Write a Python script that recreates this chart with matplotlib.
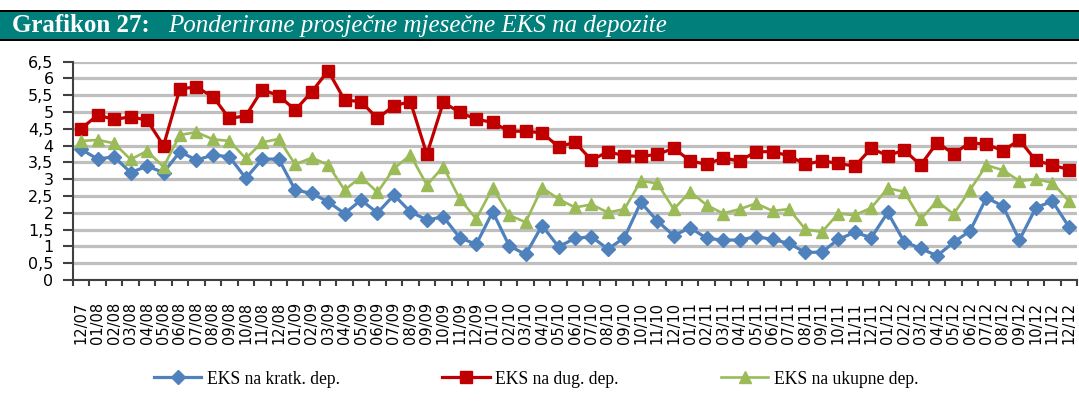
import matplotlib
matplotlib.use("Agg")
import matplotlib.pyplot as plt
from matplotlib.patches import Rectangle
import numpy as np

# monthly labels 12/07 .. 12/12
months = ["12/07"] + [f"{m:02d}/{y:02d}" for y in range(8, 13) for m in range(1, 13)]

# weighted average effective interest rate on deposits (%)
eks_kratk = [3.89, 3.60, 3.67, 3.20, 3.39, 3.20, 3.82, 3.57, 3.72, 3.67,
             3.03, 3.60, 3.60, 2.68, 2.58, 2.33, 1.98, 2.38, 2.00, 2.53,
             2.03, 1.79, 1.88, 1.26, 1.06, 2.03, 1.02, 0.76, 1.62, 0.99,
             1.24, 1.29, 0.92, 1.26, 2.31, 1.76, 1.32, 1.56, 1.24, 1.19,
             1.19, 1.29, 1.21, 1.09, 0.82, 0.83, 1.21, 1.42, 1.26, 2.01,
             1.14, 0.94, 0.72, 1.12, 1.46, 2.45, 2.20, 1.19, 2.15, 2.35,
             1.59]
eks_dug = [4.51, 4.91, 4.78, 4.86, 4.76, 4.00, 5.70, 5.74, 5.46, 4.81,
           4.89, 5.67, 5.49, 5.06, 5.60, 6.23, 5.36, 5.31, 4.81, 5.19,
           5.31, 3.74, 5.29, 4.99, 4.79, 4.69, 4.43, 4.43, 4.38, 3.97,
           4.10, 3.57, 3.82, 3.70, 3.68, 3.74, 3.92, 3.55, 3.44, 3.64,
           3.54, 3.82, 3.82, 3.70, 3.44, 3.55, 3.47, 3.39, 3.92, 3.70,
           3.87, 3.42, 4.09, 3.76, 4.09, 4.04, 3.85, 4.17, 3.56, 3.42,
           3.29]
eks_ukupne = [4.14, 4.17, 4.07, 3.59, 3.84, 3.37, 4.32, 4.40, 4.19, 4.14,
              3.62, 4.10, 4.20, 3.44, 3.64, 3.43, 2.68, 3.07, 2.61, 3.32,
              3.72, 2.83, 3.37, 2.41, 1.82, 2.75, 1.93, 1.72, 2.75, 2.41,
              2.16, 2.25, 2.01, 2.11, 2.95, 2.88, 2.11, 2.63, 2.23, 1.98,
              2.11, 2.28, 2.06, 2.11, 1.51, 1.43, 1.98, 1.93, 2.15, 2.73,
              2.63, 1.81, 2.35, 1.96, 2.68, 3.42, 3.27, 2.95, 3.00, 2.90,
              2.35]
yticks = [0, 0.5, 1, 1.5, 2, 2.5, 3, 3.5, 4, 4.5, 5, 5.5, 6, 6.5]

W, H = 1079, 401
fig = plt.figure(figsize=(W / 100, H / 100), dpi=100)

# title bar
fig.patches.append(Rectangle((0, 1 - 41 / H), 1.0, 31 / H, transform=fig.transFigure,
                             facecolor="#007f7b", edgecolor="none", zorder=0))
for yb in (10, 39):
    fig.patches.append(Rectangle((0, 1 - (yb + 2) / H), 1.0, 2 / H, transform=fig.transFigure,
                                 facecolor="black", edgecolor="none", zorder=1))
fig.text(12 / W, 1 - 26 / H, "Grafikon 27:", color="white", fontsize=18,
         fontweight="bold", family="Liberation Serif", va="center", ha="left")
fig.text(168 / W, 1 - 26 / H, "Ponderirane prosječne mjesečne EKS na depozite",
         color="white", fontsize=18, style="italic", family="Liberation Serif",
         va="center", ha="left")

ax = fig.add_axes([73 / W, 121 / H, (1077 - 73) / W, (280 - 61.7) / H])
x = np.arange(len(months))

ax.plot(x, eks_kratk, color="#4f81bd", lw=2.3, marker="D", ms=7,
        mec="#4f81bd", mfc="#4f81bd", label="EKS na kratk. dep.", zorder=3)
ax.plot(x, eks_dug, color="#c00000", lw=2.3, marker="s", ms=8,
        mec="#c00000", mfc="#c00000", label="EKS na dug. dep.", zorder=3)
ax.plot(x, eks_ukupne, color="#9bbb59", lw=1.9, marker="^", ms=9,
        mec="#9bbb59", mfc="#9bbb59", label="EKS na ukupne dep.", zorder=3)

ax.set_xlim(-0.5, len(months) - 0.5)
ax.set_ylim(0, 6.5)
ax.set_yticks(yticks)
ax.set_yticklabels([f"{v:g}".replace(".", ",") for v in yticks],
                   family="DejaVu Sans", fontsize=11.5)
ax.yaxis.grid(True, color="#bfbfbf", lw=2.3)
ax.set_axisbelow(True)

ax.set_xticks(x)
ax.set_xticklabels(months, rotation=90, fontsize=10.5, family="DejaVu Sans")
ax.set_xticks(np.arange(len(months) + 1) - 0.5, minor=True)
ax.tick_params(axis="x", which="major", length=0, pad=16)
ax.tick_params(axis="x", which="minor", length=4, width=1.5, color="#404040")
ax.tick_params(axis="y", length=7, width=1.5, color="#404040", pad=7)

for s in ("top", "right"):
    ax.spines[s].set_visible(False)
for s in ("left", "bottom"):
    ax.spines[s].set_color("#404040")
    ax.spines[s].set_linewidth(1.5)

handles, labels = ax.get_legend_handles_labels()
fig.legend(handles, labels, loc="center", bbox_to_anchor=(536 / W, 1 - 379 / H),
           ncol=3, frameon=False, prop={"family": "Liberation Serif", "size": 12.7},
           handlelength=2.7, columnspacing=5.8, handletextpad=0.3)

fig.savefig("out.png", dpi=100)
